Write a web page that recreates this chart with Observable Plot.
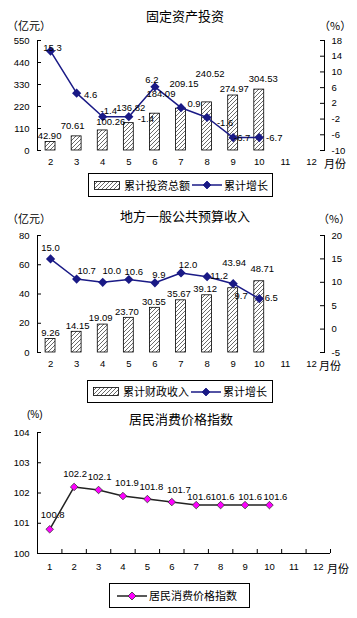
<!DOCTYPE html>
<html><head><meta charset="utf-8">
<script src="https://cdn.jsdelivr.net/npm/d3@7"></script>
<script src="https://cdn.jsdelivr.net/npm/@observablehq/plot@0.6"></script>
<style>
body{margin:0;background:#fff;}
#root{position:relative;width:357px;height:618px;overflow:hidden;font-family:"Liberation Sans",Arial,"Noto Sans CJK SC",sans-serif;color:#000;}
.abs{position:absolute;white-space:nowrap;line-height:1;}
.cjk{font-family:"Noto Sans CJK SC",sans-serif;}
.chart{position:absolute;left:0;}
.legend{position:absolute;border:1px solid #000;box-sizing:border-box;display:flex;align-items:center;font-family:"Noto Sans CJK SC",sans-serif;font-size:11px;line-height:1;background:#fff;}
.legend svg{display:block;}
</style></head><body><div id="root"></div>
<script>
// ---------- data ----------
const investMonths = ["2","3","4","5","6","7","8","9","10","11","12"];
const investTotal = [42.90, 70.61, 100.26, 136.82, 184.09, 209.15, 240.52, 274.97, 304.53];
const investGrowth = [15.3, 4.6, -1.4, -1.4, 6.2, 0.9, -1.6, -6.7, -6.7];
const investLeftTicks = [0, 110, 220, 330, 440, 550];
const investRightTicks = [-10, -6, -2, 2, 6, 10, 14, 18];

const revenueMonths = ["2","3","4","5","6","7","8","9","10","11","12"];
const revenueTotal = [9.26, 14.15, 19.09, 23.70, 30.55, 35.67, 39.12, 43.94, 48.71];
const revenueGrowth = [15.0, 10.7, 10.0, 10.6, 9.9, 12.0, 11.2, 9.7, 6.5];
const revenueLeftTicks = [0, 20, 40, 60, 80];
const revenueRightTicks = [-5, 0, 5, 10, 15, 20];

const cpiMonths = [1,2,3,4,5,6,7,8,9,10,11,12];
const cpiValues = [100.8, 102.2, 102.1, 101.9, 101.8, 101.7, 101.6, 101.6, 101.6, 101.6];
const cpiTicks = [100, 101, 102, 103, 104];

// ---------- label nudges (layout only, pixels) ----------
const investBarNudge = [[-1,-6],[-4,-10],[8,-8],[2,-15],[6,-20],[3,-25],[3,-28],[1,-7],[4,-11]];
const investLineNudge = [[2,-3],[14,2],[6,-6],[17,2],[-3,-7],[13,-4],[18,5],[9,0],[15,0]];
const revenueBarNudge = [[0,-6],[1,-6],[-2,-7],[-2,-6],[-1,-6],[-2,-6],[-2,-6],[1,-25],[3,-12]];
const revenueLineNudge = [[0,-11],[10,-8],[9,-11],[5,-8],[4,-8],[7,-8],[12,-1],[8,12],[12,-1]];
const cpiNudge = [[3,-14],[1,-13],[1,-13],[4,-13],[4,-12],[7,-12],[3,-8],[2,-8],[5,-8],[6,-8]];

const FONT = '"Liberation Sans", Arial, "Noto Sans CJK SC", sans-serif';
const NUM = 9.5;
const NAVY = "#1a1a86";
const root = document.getElementById("root");

function hatchDefs(id) {
  return `<defs><pattern id="${id}" patternUnits="userSpaceOnUse" width="4" height="4">
    <rect width="4" height="4" fill="#fff"/>
    <path d="M-1,1 l2,-2 M0,4 l4,-4 M3,5 l2,-2" stroke="#444" stroke-width="0.8"/></pattern></defs>`;
}

function place(el, top) {
  const wrap = document.createElement("div");
  wrap.className = "chart";
  wrap.style.top = top + "px";
  wrap.appendChild(el);
  root.appendChild(wrap);
}

function text(str, x, y, size, cls = "", center = false) {
  const d = document.createElement("div");
  d.className = "abs " + cls;
  d.textContent = str;
  d.style.fontSize = size + "px";
  d.style.left = x + "px";
  d.style.top = (y - size / 2) + "px";
  if (center) d.style.transform = "translateX(-50%)";
  root.appendChild(d);
}

function dualChart({months, bars, growth, leftTicks, rightTicks, barNudge, lineNudge, hatchId, height, marginTop, marginBottom}) {
  const W = 357, mL = 37, mR = 33;
  const plotW = W - mL - mR;
  const leftDomain = [leftTicks[0], leftTicks[leftTicks.length - 1]];
  const rightDomain = [rightTicks[0], rightTicks[rightTicks.length - 1]];
  const g2y = d3.scaleLinear(rightDomain, leftDomain);
  const rows = bars.map((v, i) => ({m: months[i], v, g: growth[i], gy: g2y(growth[i])}));
  const rightTickPos = rightTicks.map(g2y);
  const marks = [
    Plot.barY(rows, {x: "m", y: "v", fill: `url(#${hatchId})`, stroke: "#000", strokeWidth: 0.8}),
    Plot.frame({anchor: "left", stroke: "#000"}),
    Plot.frame({anchor: "right", stroke: "#000"}),
    Plot.tickY(leftTicks, {y: d => d, insetRight: plotW - 4, stroke: "#000"}),
    Plot.tickY(rightTickPos, {y: d => d, insetLeft: plotW - 4, stroke: "#000"}),
    Plot.axisY(leftTicks, {anchor: "left", tickSize: 0, tickPadding: 8, label: null}),
    Plot.axisY(rightTickPos, {anchor: "right", tickSize: 0, tickPadding: 7, label: null,
      tickFormat: d => String(Math.round(g2y.invert(d)))}),
    Plot.axisX({tickSize: 0, tickPadding: 8, label: null}),
    Plot.line(rows, {x: "m", y: "gy", stroke: NAVY, strokeWidth: 1.5}),
    Plot.dot(rows, {x: "m", y: "gy", symbol: "diamond2", r: 3.2, fill: NAVY, stroke: NAVY}),
    ...rows.map((d, i) => Plot.text([d], {x: "m", y: "v", text: r => r.v.toFixed(2),
      dx: barNudge[i][0], dy: barNudge[i][1], fontSize: NUM, fill: "#000"})),
    ...rows.map((d, i) => Plot.text([d], {x: "m", y: "gy", text: r => r.g.toFixed(1),
      dx: lineNudge[i][0], dy: lineNudge[i][1], fontSize: NUM, fill: "#000"}))
  ];
  const svg = Plot.plot({
    width: W, height, marginLeft: mL, marginRight: mR, marginTop, marginBottom,
    x: {type: "band", domain: months, paddingInner: 0.62, paddingOuter: 0.31, round: false, label: null},
    y: {domain: leftDomain, label: null},
    style: {fontFamily: FONT, fontSize: NUM + "px", color: "#000", background: "transparent", overflow: "visible"},
    marks
  });
  svg.insertAdjacentHTML("afterbegin", hatchDefs(hatchId));
  return svg;
}

// ---------- chart 1 ----------
place(dualChart({months: investMonths, bars: investTotal, growth: investGrowth,
  leftTicks: investLeftTicks, rightTicks: investRightTicks,
  barNudge: investBarNudge, lineNudge: investLineNudge, hatchId: "hatch1",
  height: 170, marginTop: 40, marginBottom: 20}), 0);
text("固定资产投资", 185, 15, 13, "cjk", true);
text("（亿元）", 7, 25, 11, "cjk");
text("（%）", 319, 25, 11, "cjk");
text("月份", 324, 163, 11, "cjk");

// ---------- chart 2 ----------
place(dualChart({months: revenueMonths, bars: revenueTotal, growth: revenueGrowth,
  leftTicks: revenueLeftTicks, rightTicks: revenueRightTicks,
  barNudge: revenueBarNudge, lineNudge: revenueLineNudge, hatchId: "hatch2",
  height: 170, marginTop: 35, marginBottom: 18}), 200);
text("地方一般公共预算收入", 185, 215, 13, "cjk", true);
text("（亿元）", 7, 218, 11, "cjk");
text("（%）", 318, 218, 11, "cjk");
text("月份", 319, 365, 11, "cjk");

// ---------- chart 3 ----------
(function () {
  const W = 357, H = 190, mL = 37, mR = 27, mT = 42, mB = 27;
  const plotW = W - mL - mR, plotH = H - mT - mB;
  const rows = cpiValues.map((v, i) => ({m: cpiMonths[i], v}));
  const boundaries = cpiMonths.map(m => m + 0.5);
  const xDomain = [cpiMonths[0] - 0.5, cpiMonths[cpiMonths.length - 1] + 0.5];
  const yDomain = [cpiTicks[0], cpiTicks[cpiTicks.length - 1]];
  const svg = Plot.plot({
    width: W, height: H, marginLeft: mL, marginRight: mR, marginTop: mT, marginBottom: mB,
    x: {domain: xDomain, label: null},
    y: {domain: yDomain, label: null},
    style: {fontFamily: FONT, fontSize: NUM + "px", color: "#000", background: "transparent", overflow: "visible"},
    marks: [
      Plot.ruleX([xDomain[0]], {stroke: "#000"}),
      Plot.ruleY([yDomain[0]], {stroke: "#000"}),
      Plot.tickY(cpiTicks, {y: d => d, insetRight: plotW - 4, stroke: "#000"}),
      Plot.tickX(boundaries, {x: d => d, insetTop: plotH - 4, stroke: "#000"}),
      Plot.axisY(cpiTicks, {anchor: "left", tickSize: 0, tickPadding: 8, label: null}),
      Plot.axisX(cpiMonths, {tickSize: 0, tickPadding: 10, label: null, tickFormat: d => String(d)}),
      Plot.line(rows, {x: "m", y: "v", stroke: "#222", strokeWidth: 1.5}),
      Plot.dot(rows, {x: "m", y: "v", symbol: "diamond2", r: 3.4, fill: "#ff00ff", stroke: "#333", strokeWidth: 0.8}),
      ...rows.map((d, i) => Plot.text([d], {x: "m", y: "v", text: r => r.v.toFixed(1),
        dx: cpiNudge[i][0], dy: cpiNudge[i][1], fontSize: NUM, fill: "#000"}))
    ]
  });
  place(svg, 390);
})();
text("(%)", 27, 415, 10, "");
text("居民消费价格指数", 181, 418, 13, "cjk", true);
text("月份", 327, 568, 11, "cjk");

// ---------- legends ----------
function legend(left, top, width, height, items) {
  const d = document.createElement("div");
  d.className = "legend";
  Object.assign(d.style, {left: left + "px", top: top + "px", width: width + "px", height: height + "px", paddingLeft: "5px"});
  d.innerHTML = items;
  root.appendChild(d);
}
const hatchSwatch = id => `<svg width="26" height="9" style="margin-right:4px">${hatchDefs(id)}<rect x="0.5" y="0.5" width="25" height="8" fill="url(#${id})" stroke="#000" stroke-width="0.8"/></svg>`;
const lineSwatch = (color, fill, stroke) => `<svg width="30" height="10" style="margin:0 2px"><line x1="0" y1="5" x2="30" y2="5" stroke="${color}" stroke-width="1.5"/><path d="M15,1 L19,5 L15,9 L11,5 Z" fill="${fill}" stroke="${stroke}" stroke-width="0.8"/></svg>`;
legend(88, 173, 185, 24, hatchSwatch("lh1") + "<span>累计投资总额</span>" + lineSwatch(NAVY, NAVY, NAVY) + "<span>累计增长</span>");
legend(87, 380, 186, 23, hatchSwatch("lh2") + "<span>累计财政收入</span>" + lineSwatch(NAVY, NAVY, NAVY) + "<span>累计增长</span>");
legend(109, 583, 141, 25, lineSwatch("#222", "#ff00ff", "#333") + "<span>居民消费价格指数</span>");
</script></body></html>
